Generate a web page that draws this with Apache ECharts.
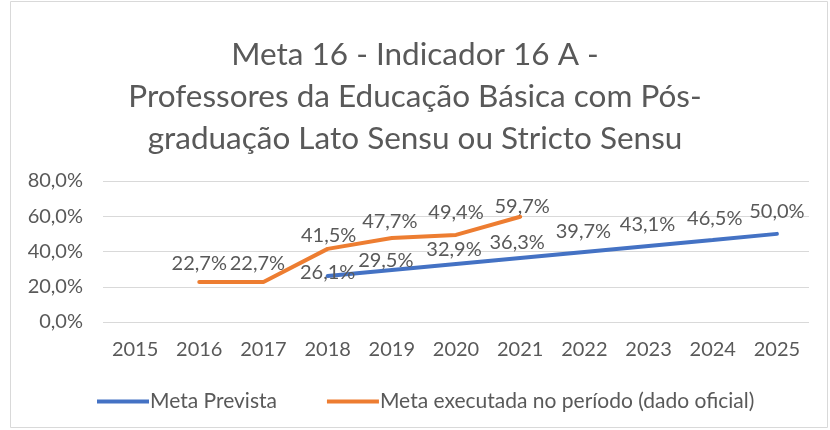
<!DOCTYPE html>
<html>
<head>
<meta charset="utf-8">
<script src="https://cdn.jsdelivr.net/npm/echarts@6/dist/echarts.min.js"></script>
<style>
  html, body { margin: 0; padding: 0; background: #fff; }
  #chart { width: 830px; height: 430px; }
</style>
</head>
<body>
<div id="chart"></div>
<script>
const years = ['2015', '2016', '2017', '2018', '2019', '2020', '2021', '2022', '2023', '2024', '2025'];
const metaPrevista = [null, null, null, 26.1, 29.5, 32.9, 36.3, 39.7, 43.1, 46.5, 50.0];
const metaExecutada = [null, 22.7, 22.7, 41.5, 47.7, 49.4, 59.7, null, null, null, null];
const yTicks = [0, 20, 40, 60, 80];

// hand-placed data label nudges [dx, dy] as in the original
const previstaLabelShift = [null, null, null, [0, 16], [-6, 10], [-2, 5], [-3, 4], [-1, -1], [-1, -2], [2, -2], [0, -3]];
const executadaLabelShift = [null, [0, 1], [-6, 1], [1, 6], [-2, 3], [0, -3], [2, 9], null, null, null, null];

const FONT = 'Lato';
const GREY = '#595959';

const pct = (v) => v.toFixed(1).replace('.', ',') + '%';

const withShift = (values, shifts) => values.map((v, i) => {
    if (v == null) return null;
    const s = shifts[i] || [0, 0];
    return { value: v, label: { offset: s } };
});

const chart = echarts.init(document.getElementById('chart'));

const labelStyle = {
    show: true,
    position: 'top',
    distance: 9,
    color: GREY,
    fontSize: 20,
    fontFamily: FONT,
    formatter: (p) => pct(p.value)
};

chart.setOption({
    animation: false,
    textStyle: { fontFamily: FONT },
    title: {
        text: 'Meta 16 - Indicador 16 A -\nProfessores da Educação Básica com Pós-\ngraduação Lato Sensu ou Stricto Sensu',
        left: 'center',
        top: 29,
        textStyle: {
            fontFamily: FONT,
            fontSize: 31.5,
            fontWeight: 'normal',
            color: GREY,
            lineHeight: 42
        }
    },
    graphic: [{
        type: 'rect',
        shape: { x: 10.5, y: 1.5, width: 817, height: 426 },
        style: { fill: 'none', stroke: '#d9d9d9', lineWidth: 1 },
        silent: true
    }],
    legend: {
        bottom: 18,
        left: 97,
        padding: 0,
        itemGap: 50,
        itemWidth: 52,
        itemHeight: 4,
        icon: 'rect',
        textStyle: { fontFamily: FONT, fontSize: 21, color: GREY, padding: [0, 0, 0, -4] },
        data: ['Meta Prevista', 'Meta executada no período (dado oficial)']
    },
    grid: {
        left: 103,
        right: 21,
        top: 181,
        bottom: 108
    },
    xAxis: {
        type: 'category',
        data: years,
        boundaryGap: true,
        axisLine: { show: false },
        axisTick: { show: false },
        axisLabel: { color: GREY, fontSize: 20, margin: 18, fontFamily: FONT }
    },
    yAxis: {
        type: 'value',
        min: yTicks[0],
        max: yTicks[yTicks.length - 1],
        interval: 20,
        axisLabel: {
            color: GREY,
            fontSize: 20,
            margin: 20,
            fontFamily: FONT,
            formatter: (v) => pct(v)
        },
        splitLine: { lineStyle: { color: '#d9d9d9', width: 1 } }
    },
    series: [
        {
            name: 'Meta Prevista',
            type: 'line',
            data: withShift(metaPrevista, previstaLabelShift),
            color: '#4472C4',
            symbol: 'circle',
            symbolSize: 1,
            showSymbol: true,
            lineStyle: { width: 4, color: '#4472C4', cap: 'round' },
            label: labelStyle,
            z: 2
        },
        {
            name: 'Meta executada no período (dado oficial)',
            type: 'line',
            data: withShift(metaExecutada, executadaLabelShift),
            color: '#ED7D31',
            symbol: 'circle',
            symbolSize: 1,
            showSymbol: true,
            lineStyle: { width: 4, color: '#ED7D31', cap: 'round' },
            label: labelStyle,
            z: 3
        }
    ]
});
</script>
</body>
</html>
